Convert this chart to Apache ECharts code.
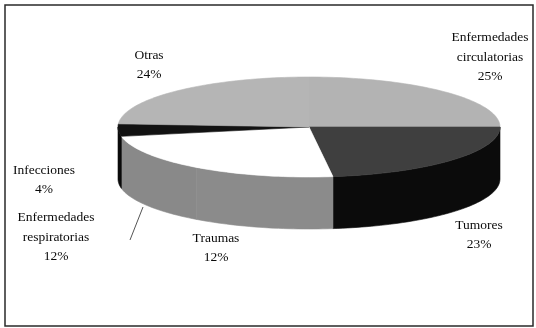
<!DOCTYPE html>
<html><head><meta charset="utf-8">
<script src="https://cdn.jsdelivr.net/npm/echarts@6/dist/echarts.min.js"></script>
<style>html,body{margin:0;padding:0;background:#fff}#c{width:536px;height:328px}</style>
</head><body><div id="c"></div>
<script>
// ---- data ----
const categories = ['Enfermedades\ncirculatorias', 'Tumores', 'Traumas', 'Enfermedades\nrespiratorias', 'Infecciones', 'Otras'];
const values = [25, 23, 12, 12, 4, 24];

// ---- style / layout ----
const topColors  = ['#b3b3b3', '#3f3f3f', '#ffffff', '#ffffff', '#121212', '#b5b5b5'];
const sideColors = ['#8a8a8a', '#0b0b0b', '#8b8b8b', '#898989', '#0a0a0a', '#8a8a8a'];
const labelPos = [[490, 57], [479, 235], [216, 248], [56, 237], [44, 180], [149, 65]];
const leaderLines = [null, null, null, [[143, 207], [130, 240]], null, null];
const G = { cx: 309, cy: 127, rx: 191, ry: 50, depth: 52 };

const total = values.reduce((s, v) => s + v, 0);
let acc = 0;
const sliceData = values.map((v, i) => {
  const a = acc / total * 360; acc += v;
  const b = acc / total * 360;
  return [a, b, i];
});

function pt(deg, dz) {
  const r = deg * Math.PI / 180;
  return [G.cx + G.rx * Math.sin(r), G.cy - G.ry * Math.cos(r) + dz];
}

function wallItem(params, api) {
  const a = api.value(0), b = api.value(1), i = api.value(2);
  const lo = Math.max(a, 90), hi = Math.min(b, 270);
  if (hi <= lo) return { type: 'group', children: [] };
  const n = Math.max(2, Math.ceil((hi - lo) / 1.5));
  const pts = [];
  for (let k = 0; k <= n; k++) pts.push(pt(lo + (hi - lo) * k / n, 0));
  for (let k = n; k >= 0; k--) pts.push(pt(lo + (hi - lo) * k / n, G.depth));
  return { type: 'polygon', shape: { points: pts },
    style: { fill: sideColors[i], stroke: sideColors[i], lineWidth: 0.6 } };
}

function topItem(params, api) {
  const a = api.value(0), b = api.value(1), i = api.value(2);
  const n = Math.max(2, Math.ceil((b - a) / 1.5));
  const pts = [[G.cx, G.cy]];
  for (let k = 0; k <= n; k++) pts.push(pt(a + (b - a) * k / n, 0));
  const children = [{ type: 'polygon', shape: { points: pts },
    style: { fill: topColors[i], stroke: topColors[i], lineWidth: 0.6 } }];
  children.push({ type: 'text', x: labelPos[i][0], y: labelPos[i][1],
    style: { text: categories[i] + '\n' + values[i] + '%', align: 'center', verticalAlign: 'middle',
      fontFamily: '"Liberation Serif", "DejaVu Serif", serif', fontSize: 13.5, lineHeight: 19.5, fill: '#0a0a0a' } });
  if (leaderLines[i]) {
    const l = leaderLines[i];
    children.push({ type: 'line', shape: { x1: l[0][0], y1: l[0][1], x2: l[1][0], y2: l[1][1] },
      style: { stroke: '#555', lineWidth: 1 } });
  }
  return { type: 'group', children };
}

const chart = echarts.init(document.getElementById('c'), null, { renderer: 'canvas' });
chart.setOption({
  backgroundColor: '#ffffff',
  animation: false,
  graphic: [{ type: 'rect', shape: { x: 5, y: 5, width: 528, height: 321 },
    style: { fill: 'none', stroke: '#2a2a2a', lineWidth: 1.5 }, z: 100 }],
  series: [
    { type: 'custom', coordinateSystem: 'none', renderItem: wallItem, data: sliceData, z: 1, silent: true },
    { type: 'custom', coordinateSystem: 'none', renderItem: topItem, data: sliceData, z: 2, silent: true }
  ]
});
</script></body></html>
